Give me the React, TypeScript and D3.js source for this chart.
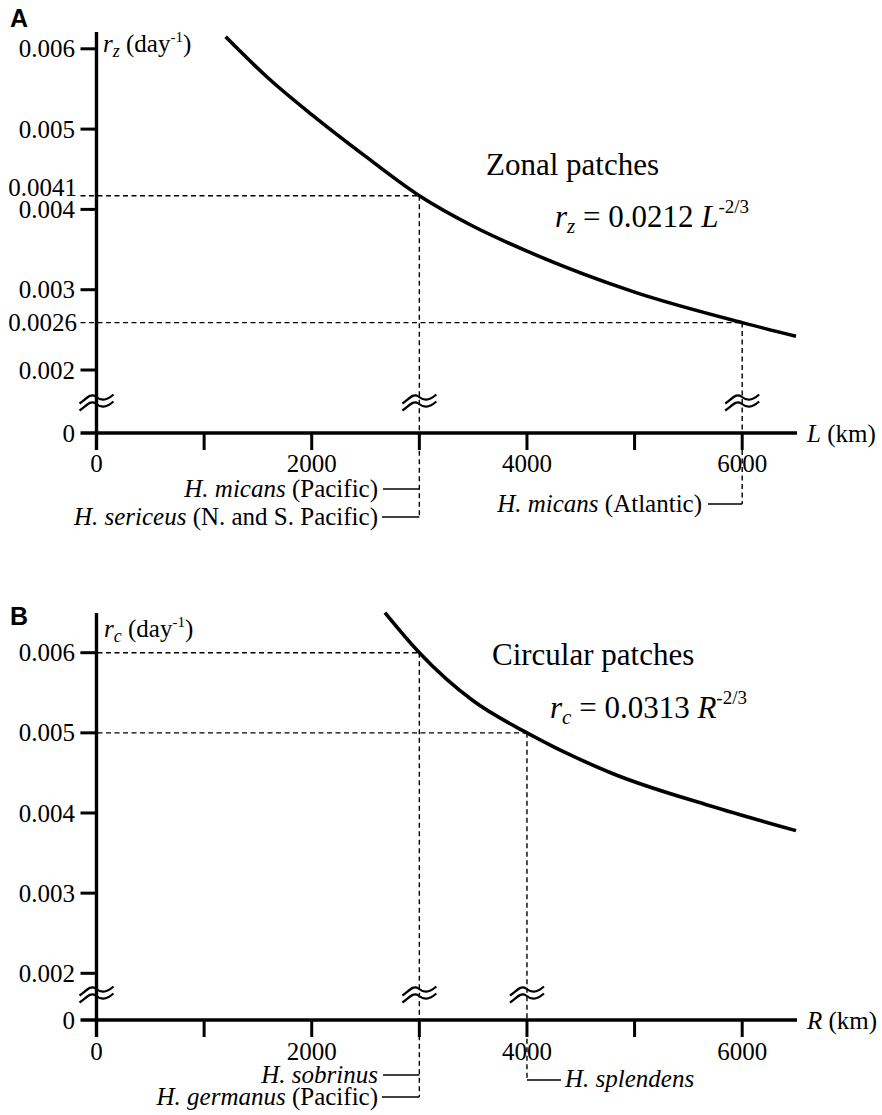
import React from 'react';
import * as d3 from 'd3';

// ---------- data ----------
const zonalL = [1200, 1600, 2000, 2500, 3000, 3500, 4000, 5000, 6000, 6500];
const zonalRate = [0.00615, 0.00563, 0.00518, 0.00466, 0.00417, 0.00379, 0.00348, 0.00297, 0.00259, 0.00242];
const circR = [2680, 3000, 3500, 4000, 4800, 5700, 6500];
const circRate = [0.0065, 0.006, 0.0054, 0.005, 0.00449, 0.00409, 0.00378];

const xTicks = [0, 1000, 2000, 3000, 4000, 5000, 6000];
const xTickLabels = ['0', '2000', '4000', '6000'];
const xLabelValues = [0, 2000, 4000, 6000];
const yTicks = [0.002, 0.003, 0.004, 0.005, 0.006];
const yTickLabels = ['0.002', '0.003', '0.004', '0.005', '0.006'];

const zonalRefX = [3000, 6000];
const zonalRefY = [0.00417, 0.00259];
const zonalRefLabels = ['0.0041', '0.0026'];
const circRefX = [3000, 4000];
const circRefY = [0.006, 0.005];

const FONT = '"Liberation Serif", "Times New Roman", serif';
const SANS = '"Liberation Sans", Arial, sans-serif';

const W = 882;
const H = 1115;

const xScale = d3.scaleLinear().domain([0, 6500]).range([96.5, 796]);

function breakMark(cx: number, cy: number, key: string) {
  const ds = [-3.5, 3.5].map((dy) => {
    const y = cy + dy;
    return `M${cx - 17},${y + 5} C${cx - 11},${y + 1} ${cx - 6},${y - 6} ${cx - 1},${y - 2} S${cx + 9},${y + 3} ${cx + 17},${y - 4}`;
  });
  return (
    <g key={key}>
      {ds.map((d, i) => (
        <path key={i} d={d} fill="none" stroke="#000" strokeWidth={2.2} />
      ))}
    </g>
  );
}

type PanelProps = {
  yScale: d3.ScaleLinear<number, number>;
  zeroY: number;
  axisTop: number;
  xs: number[];
  ys: number[];
  breakY: number;
  breaksX: number[];
  tickLabelY: number;
  xAxisVar: string;
};

function Axes({ yScale, zeroY, axisTop, xs, ys, breakY, breaksX, tickLabelY, xAxisVar }: PanelProps) {
  const line = d3
    .line<number>()
    .x((_, i) => xScale(xs[i]))
    .y((_, i) => yScale(ys[i]))
    .curve(d3.curveMonotoneX);
  const x0 = xScale(0);
  return (
    <g>
      <path d={line(xs) || ''} fill="none" stroke="#000" strokeWidth={3.6} strokeLinecap="butt" />
      <line x1={x0} x2={x0} y1={axisTop} y2={zeroY + 17} stroke="#000" strokeWidth={3.4} />
      <line x1={x0 - 16} x2={xScale(6500) + 1} y1={zeroY} y2={zeroY} stroke="#000" strokeWidth={3.6} />
      {yTicks.map((t, i) => (
        <g key={'yt' + i}>
          <line x1={x0 - 16} x2={x0} y1={yScale(t)} y2={yScale(t)} stroke="#000" strokeWidth={3} />
          <text x={75} y={yScale(t)} dy="0.34em" textAnchor="end" fontFamily={FONT} fontSize={25}>
            {yTickLabels[i]}
          </text>
        </g>
      ))}
      <text x={75} y={zeroY} dy="0.34em" textAnchor="end" fontFamily={FONT} fontSize={25}>
        0
      </text>
      {xTicks.map((t, i) => (
        <line key={'xt' + i} x1={xScale(t)} x2={xScale(t)} y1={zeroY} y2={zeroY + 17} stroke="#000" strokeWidth={3} />
      ))}
      {xLabelValues.map((t, i) => (
        <text key={'xl' + i} x={xScale(t)} y={tickLabelY} textAnchor="middle" fontFamily={FONT} fontSize={25}>
          {xTickLabels[i]}
        </text>
      ))}
      <text x={xScale(6500) + 11} y={zeroY} dy="0.34em" fontFamily={FONT} fontSize={25}>
        <tspan fontStyle="italic">{xAxisVar}</tspan>
        <tspan> (km)</tspan>
      </text>
      {breakMark(x0, breakY, 'by')}
      {breaksX.map((bx, i) => breakMark(xScale(bx), breakY, 'bx' + i))}
    </g>
  );
}

export default function App() {
  const yA = d3.scaleLinear().domain([0.002, 0.006]).range([370, 48.8]);
  const yB = d3.scaleLinear().domain([0.002, 0.006]).range([973.3, 652.7]);
  const x0 = xScale(0);
  const dash = '5,3.5';

  return (
    <svg width={W} height={H} style={{ position: 'absolute', left: 0, top: 0, background: '#fff' }}>
      <rect x={0} y={0} width={W} height={H} fill="#fff" />

      {/* ================= Panel A ================= */}
      <text x={10} y={27} fontFamily={SANS} fontWeight="bold" fontSize={25}>A</text>
      {zonalRefX.map((rx, i) => (
        <g key={'ra' + i}>
          <line x1={x0 - 16} x2={xScale(rx)} y1={yA(zonalRefY[i])} y2={yA(zonalRefY[i])} stroke="#000" strokeWidth={1.4} strokeDasharray={dash} />
          <text x={77} y={yA(zonalRefY[i])} dy={i === 0 ? '0.02em' : '0.34em'} textAnchor="end" fontFamily={FONT} fontSize={25}>
            {zonalRefLabels[i]}
          </text>
        </g>
      ))}
      <line x1={xScale(3000)} x2={xScale(3000)} y1={yA(zonalRefY[0])} y2={517} stroke="#000" strokeWidth={1.4} strokeDasharray={dash} />
      <line x1={xScale(6000)} x2={xScale(6000)} y1={yA(zonalRefY[1])} y2={504} stroke="#000" strokeWidth={1.4} strokeDasharray={dash} />

      <Axes
        yScale={yA}
        zeroY={433}
        axisTop={32}
        xs={zonalL}
        ys={zonalRate}
        breakY={402}
        breaksX={[3000, 6000]}
        tickLabelY={472}
        xAxisVar="L"
      />

      <text x={103} y={52} fontFamily={FONT} fontSize={25}>
        <tspan fontStyle="italic">r</tspan>
        <tspan fontStyle="italic" fontSize={18} dy={5}>z</tspan>
        <tspan dy={-5}> (day</tspan>
        <tspan fontSize={15} dy={-10}>-1</tspan>
        <tspan dy={10}>)</tspan>
      </text>

      <text x={486} y={175} fontFamily={FONT} fontSize={31}>Zonal patches</text>
      <text x={555} y={227} fontFamily={FONT} fontSize={31}>
        <tspan fontStyle="italic">r</tspan>
        <tspan fontStyle="italic" fontSize={21} dy={6}>z</tspan>
        <tspan dy={-6}> = 0.0212 </tspan>
        <tspan fontStyle="italic">L</tspan>
        <tspan fontSize={19} dy={-14}>-2/3</tspan>
      </text>

      <line x1={383} x2={xScale(3000)} y1={489} y2={489} stroke="#000" strokeWidth={1.5} />
      <line x1={382} x2={xScale(3000)} y1={517} y2={517} stroke="#000" strokeWidth={1.5} />
      <text x={378} y={497} textAnchor="end" fontFamily={FONT} fontSize={25}>
        <tspan fontStyle="italic">H. micans</tspan>
        <tspan> (Pacific)</tspan>
      </text>
      <text x={378} y={525} textAnchor="end" fontFamily={FONT} fontSize={25}>
        <tspan fontStyle="italic">H. sericeus</tspan>
        <tspan> (N. and S. Pacific)</tspan>
      </text>
      <line x1={708} x2={xScale(6000)} y1={504} y2={504} stroke="#000" strokeWidth={1.5} />
      <text x={702} y={512} textAnchor="end" fontFamily={FONT} fontSize={25}>
        <tspan fontStyle="italic">H. micans</tspan>
        <tspan> (Atlantic)</tspan>
      </text>

      {/* ================= Panel B ================= */}
      <text x={10} y={625} fontFamily={SANS} fontWeight="bold" fontSize={25}>B</text>
      {circRefX.map((rx, i) => (
        <line key={'rb' + i} x1={x0 - 16} x2={xScale(rx)} y1={yB(circRefY[i])} y2={yB(circRefY[i])} stroke="#000" strokeWidth={1.4} strokeDasharray={dash} />
      ))}
      <line x1={xScale(3000)} x2={xScale(3000)} y1={yB(circRefY[0])} y2={1097} stroke="#000" strokeWidth={1.4} strokeDasharray={dash} />
      <line x1={xScale(4000)} x2={xScale(4000)} y1={yB(circRefY[1])} y2={1080} stroke="#000" strokeWidth={1.4} strokeDasharray={dash} />

      <Axes
        yScale={yB}
        zeroY={1020}
        axisTop={613}
        xs={circR}
        ys={circRate}
        breakY={994}
        breaksX={[3000, 4000]}
        tickLabelY={1060}
        xAxisVar="R"
      />

      <text x={104} y={637} fontFamily={FONT} fontSize={25}>
        <tspan fontStyle="italic">r</tspan>
        <tspan fontStyle="italic" fontSize={18} dy={5}>c</tspan>
        <tspan dy={-5}> (day</tspan>
        <tspan fontSize={15} dy={-10}>-1</tspan>
        <tspan dy={10}>)</tspan>
      </text>

      <text x={492} y={665} fontFamily={FONT} fontSize={31}>Circular patches</text>
      <text x={550} y={718} fontFamily={FONT} fontSize={31}>
        <tspan fontStyle="italic">r</tspan>
        <tspan fontStyle="italic" fontSize={21} dy={6}>c</tspan>
        <tspan dy={-6}> = 0.0313 </tspan>
        <tspan fontStyle="italic">R</tspan>
        <tspan fontSize={19} dy={-14}>-2/3</tspan>
      </text>

      <line x1={383} x2={xScale(3000)} y1={1075} y2={1075} stroke="#000" strokeWidth={1.5} />
      <line x1={382} x2={xScale(3000)} y1={1097} y2={1097} stroke="#000" strokeWidth={1.5} />
      <text x={378} y={1083} textAnchor="end" fontFamily={FONT} fontSize={25}>
        <tspan fontStyle="italic">H. sobrinus</tspan>
      </text>
      <text x={378} y={1105} textAnchor="end" fontFamily={FONT} fontSize={25}>
        <tspan fontStyle="italic">H. germanus</tspan>
        <tspan> (Pacific)</tspan>
      </text>
      <line x1={xScale(4000)} x2={561} y1={1080} y2={1080} stroke="#000" strokeWidth={1.5} />
      <text x={565} y={1087} fontFamily={FONT} fontSize={25}>
        <tspan fontStyle="italic">H. splendens</tspan>
      </text>
    </svg>
  );
}
